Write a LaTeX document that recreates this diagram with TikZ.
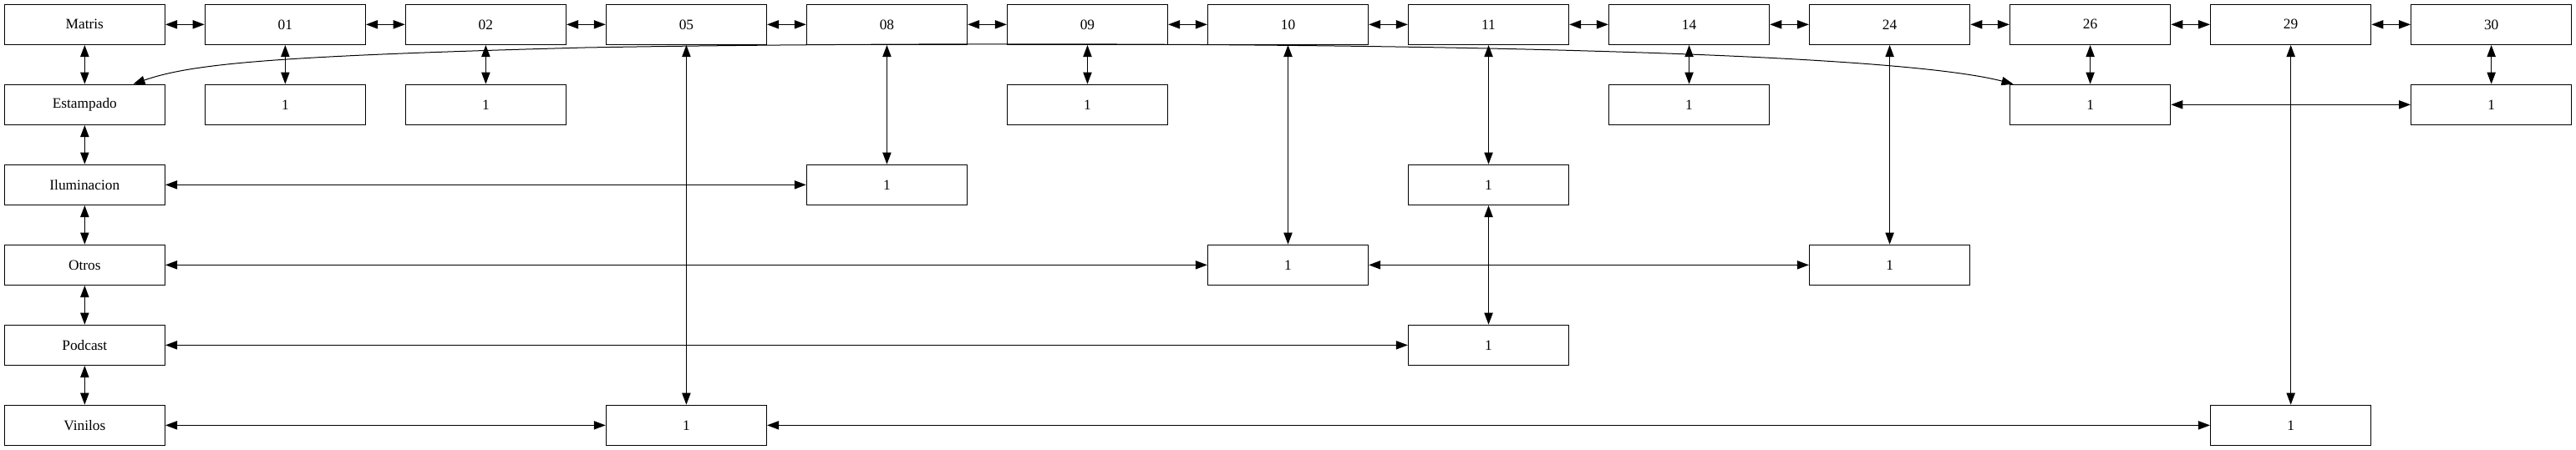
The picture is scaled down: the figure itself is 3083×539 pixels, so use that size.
\documentclass[tikz,border=0pt]{standalone}
\usepackage{fontspec}
\setmainfont{Liberation Serif}
\usetikzlibrary{arrows.meta}
\begin{document}
\begin{tikzpicture}[x=0.75pt,y=-0.75pt,
  box/.style={draw=black, line width=1pt, fill=white, minimum width=144pt, minimum height=36pt, inner sep=0pt, font=\fontsize{13pt}{16pt}\selectfont},
  link/.style={line width=0.75pt, {Triangle[length=10.5pt,width=7.7pt]}-{Triangle[length=10.5pt,width=7.7pt]}}]
\useasboundingbox (0,0) rectangle (3082.67,538.67);
% row 0
\node[box] (m)   at (101.33,29.33)  {Matris};
\node[box] (n01) at (341.33,29.33)  {01};
\node[box] (n02) at (581.33,29.33)  {02};
\node[box] (n05) at (821.33,29.33)  {05};
\node[box] (n08) at (1061.33,29.33) {08};
\node[box] (n09) at (1301.33,29.33) {09};
\node[box] (n10) at (1541.33,29.33) {10};
\node[box] (n11) at (1781.33,29.33) {11};
\node[box] (n14) at (2021.33,29.33) {14};
\node[box] (n24) at (2261.33,29.33) {24};
\node[box] (n26) at (2501.33,29.33) {26};
\node[box] (n29) at (2741.33,29.33) {29};
\node[box] (n30) at (2981.33,29.33) {30};
% column 0
\node[box] (est) at (101.33,125.33) {Estampado};
\node[box] (ilu) at (101.33,221.33) {Iluminacion};
\node[box] (otr) at (101.33,317.33) {Otros};
\node[box] (pod) at (101.33,413.33) {Podcast};
\node[box] (vin) at (101.33,509.33) {Vinilos};
% value nodes
\node[box] (a01) at (341.33,125.33)  {1};
\node[box] (a02) at (581.33,125.33)  {1};
\node[box] (a09) at (1301.33,125.33) {1};
\node[box] (a14) at (2021.33,125.33) {1};
\node[box] (a26) at (2501.33,125.33) {1};
\node[box] (a30) at (2981.33,125.33) {1};
\node[box] (a08) at (1061.33,221.33) {1};
\node[box] (a11) at (1781.33,221.33) {1};
\node[box] (a10) at (1541.33,317.33) {1};
\node[box] (a24) at (2261.33,317.33) {1};
\node[box] (p11) at (1781.33,413.33) {1};
\node[box] (a05) at (821.33,509.33)  {1};
\node[box] (a29) at (2741.33,509.33) {1};
% row 0 chain
\draw[link] (m) -- (n01);
\draw[link] (n01) -- (n02);
\draw[link] (n02) -- (n05);
\draw[link] (n05) -- (n08);
\draw[link] (n08) -- (n09);
\draw[link] (n09) -- (n10);
\draw[link] (n10) -- (n11);
\draw[link] (n11) -- (n14);
\draw[link] (n14) -- (n24);
\draw[link] (n24) -- (n26);
\draw[link] (n26) -- (n29);
\draw[link] (n29) -- (n30);
% column 0 chain
\draw[link] (m) -- (est);
\draw[link] (est) -- (ilu);
\draw[link] (ilu) -- (otr);
\draw[link] (otr) -- (pod);
\draw[link] (pod) -- (vin);
% verticals
\draw[link] (n01) -- (a01);
\draw[link] (n02) -- (a02);
\draw[link] (n09) -- (a09);
\draw[link] (n14) -- (a14);
\draw[link] (n26) -- (a26);
\draw[link] (n30) -- (a30);
\draw[link] (n08) -- (a08);
\draw[link] (n11) -- (a11);
\draw[link] (n10) -- (a10);
\draw[link] (n24) -- (a24);
\draw[link] (n05) -- (a05);
\draw[link] (n29) -- (a29);
\draw[link] (a11) -- (p11);
% horizontals
\draw[link] (a26) -- (a30);
\draw[link] (ilu) -- (a08);
\draw[link] (otr) -- (a10);
\draw[link] (a10) -- (a24);
\draw[link] (pod) -- (p11);
\draw[link] (vin) -- (a05);
\draw[link] (a05) -- (a29);
% curve
\draw[link] (est.23) .. controls (230,76) and (330,67) .. (700,57)
  .. controls (1100,50) and (1600,52) .. (1900,61)
  .. controls (2150,68) and (2330,80) .. (a26.165);
\end{tikzpicture}
\end{document}
